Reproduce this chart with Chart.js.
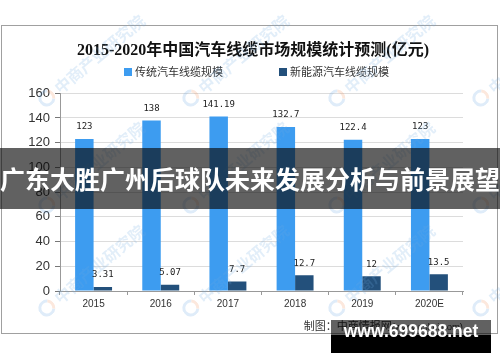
<!DOCTYPE html>
<html>
<head>
<meta charset="utf-8">
<script src="https://cdn.jsdelivr.net/npm/chart.js@4"></script>
<style>
  body { margin: 0; background: #fff; }
  #wrap { position: relative; width: 500px; height: 362px; overflow: hidden; font-family: "Liberation Sans", "Noto Sans CJK SC", sans-serif; }
  #frame { position: absolute; left: 1px; top: 25px; width: 495px; height: 307px; border: 1px solid #a0a0a0; }
  canvas { position: absolute; left: 0; top: 0; }
  .lg { position: absolute; top: 65px; font-size: 11px; color: #333; line-height: 14px; white-space: nowrap; }
  .lg i { display: inline-block; width: 8px; height: 8px; margin-right: 3px; }
  .wm { position: absolute; color: rgba(110,170,225,0.2); font: bold 16px "Noto Sans CJK SC", sans-serif; white-space: nowrap;
    transform-origin: 0 50%; transform: rotate(-40deg); line-height: 20px; }
  .wm b { display: inline-block; width: 11px; height: 11px; border: 3px solid rgba(110,170,225,0.22); border-right-color: rgba(240,150,100,0.22);
    border-radius: 50%; margin-right: 4px; vertical-align: -2px; }
  #banner { position: absolute; left: 0; top: 148px; width: 500px; height: 61px; background: rgba(8,8,8,0.64);
    color: #fff; font: bold 25px "Noto Sans CJK SC", sans-serif; line-height: 61px; text-align: center; white-space: nowrap; }
  #credit { position: absolute; right: 37px; top: 317px; font-size: 11px; color: #333; white-space: nowrap; }
  #credit span { font-size: 9.5px; }
  #site1 { position: absolute; left: 331px; top: 320px; width: 160px; height: 15px; background: rgba(0,0,0,0.62); }
  #site2 { position: absolute; left: 331px; top: 335px; width: 160px; height: 18px; background: #000; }
  #sitetxt { position: absolute; left: 331px; top: 321px; width: 160px; height: 33px; line-height: 33px; text-align: center;
    color: #fff; font: bold 17.5px "Liberation Sans", sans-serif; white-space: nowrap; }
</style>
</head>
<body>
<div id="wrap">
  <div id="frame"></div>
  <canvas id="chart" width="500" height="362"></canvas>
  <div class="lg" style="left:124px"><i style="background:#3d9cf0"></i>传统汽车线缆规模</div>
  <div class="lg" style="left:279px"><i style="background:#23507b"></i>新能源汽车线缆规模</div>
  <div id="credit">制图：中商情报网<span>(www.askci.com)</span></div>
  <div id="wms"></div>
  <div id="banner">广东大胜广州后球队未来发展分析与前景展望</div>
  <div id="site1"></div><div id="site2"></div>
  <div id="sitetxt">www.699688.net</div>
</div>
<script>
// 数据
const years = ["2015", "2016", "2017", "2018", "2019", "2020E"];
const traditional = [123, 138, 141.19, 132.7, 122.4, 123];
const newEnergy = [3.31, 5.07, 7.7, 12.7, 12, 13.5];
const seriesNames = ["传统汽车线缆规模", "新能源汽车线缆规模"];
const yTicks = [0, 20, 40, 60, 80, 100, 120, 140, 160];

// 水印 (中商产业研究院)
const wmBox = document.getElementById("wms");
[48, 192, 338, 482].forEach(x => {
    [103, 210, 313].forEach(y => {
        const d = document.createElement("div");
        d.className = "wm";
        d.style.left = (x - 8) + "px";
        d.style.top = (y - 10) + "px";
        d.innerHTML = "<b></b>中商产业研究院";
        wmBox.appendChild(d);
    });
});

// 棒の上に数値を描く
const valueLabels = {
    id: "valueLabels",
    afterDatasetsDraw(chart) {
        const ctx = chart.ctx;
        ctx.save();
        ctx.font = "9px 'DejaVu Sans Mono', monospace";
        ctx.fillStyle = "#222";
        ctx.textAlign = "center";
        ctx.textBaseline = "middle";
        chart.data.datasets.forEach((ds, i) => {
            chart.getDatasetMeta(i).data.forEach((bar, j) => {
                ctx.fillText(String(ds.data[j]), bar.x, bar.y - 12);
            });
        });
        ctx.restore();
    }
};

const ctx = document.getElementById("chart").getContext("2d");
new Chart(ctx, {
    type: "bar",
    data: {
        labels: years,
        datasets: [
            { label: seriesNames[0], data: traditional, backgroundColor: "#3d9cf0" },
            { label: seriesNames[1], data: newEnergy, backgroundColor: "#23507b" }
        ]
    },
    options: {
        responsive: false,
        animation: false,
        layout: { padding: { top: 41, left: 6, right: 0, bottom: 41 } },
        datasets: { bar: { categoryPercentage: 0.55, barPercentage: 1.0 } },
        plugins: {
            legend: { display: false },
            tooltip: { enabled: false },
            title: {
                display: true,
                text: "2015-2020年中国汽车线缆市场规模统计预测(亿元)",
                color: "#111",
                font: { size: 16, weight: "bold", family: "'Liberation Serif', 'Noto Sans CJK SC', serif" },
                padding: { top: 0, bottom: 33 }
            }
        },
        scales: {
            x: {
                grid: { drawOnChartArea: false, color: "#999", tickLength: 4 },
                border: { color: "#999" },
                ticks: { color: "#333", font: { size: 10, family: "'Liberation Sans', sans-serif" }, padding: 3 },
                afterFit(scale) { scale.height = 30; }
            },
            y: {
                min: 0,
                max: 160,
                afterBuildTicks(scale) { scale.ticks = yTicks.map(v => ({ value: v })); },
                grid: { color: "#dcdcdc", tickColor: "#777", tickLength: 5 },
                border: { color: "#999" },
                ticks: { color: "#333", font: { size: 13, family: "'Liberation Sans', sans-serif" }, padding: 5 },
                afterFit(scale) { scale.width = 54; }
            },
            // 右側の余白用
            yRight: {
                position: "right",
                display: true,
                grid: { display: false },
                border: { display: false },
                ticks: { display: false },
                afterFit(scale) { scale.width = 37; }
            }
        }
    },
    plugins: [valueLabels]
});
</script>
</body>
</html>
